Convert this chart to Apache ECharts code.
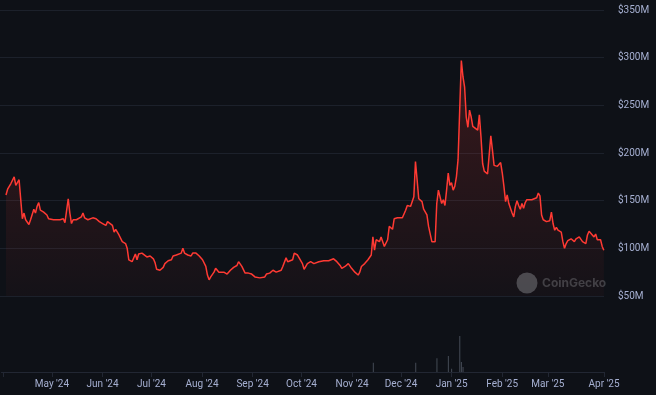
<!DOCTYPE html>
<html><head><meta charset="utf-8">
<script src="https://cdn.jsdelivr.net/npm/echarts@6/dist/echarts.min.js"></script>
<style>html,body{margin:0;padding:0;background:#0e1117;}#c{width:656px;height:395px;}</style>
</head><body><div id="c"></div>
<script>
// ---- data ----
const startDate = '2024-04-01'; // day 0
const priceDays = [3,4,5,6,8,9,11,13,14,15,16,17,18,20,21,22,23,24,26,28,29,30,32,33,36,38,39,40,41,42,43,44,46,47,49,50,51,53,54,56,58,60,62,64,65,66,68,69,70,72,73,74,76,77,78,80,81,82,83,84,86,87,89,91,93,94,95,96,97,99,100,102,104,105,107,108,110,111,112,114,116,117,119,121,123,125,126,127,128,130,131,133,134,136,138,140,142,144,145,147,149,151,153,155,156,158,159,161,162,164,166,168,169,171,172,174,175,176,178,179,181,182,184,185,187,189,191,192,194,195,197,198,200,203,205,207,208,210,212,214,216,218,219,220,222,224,226,227,228,229,230,231,232,234,235,236,237,239,240,242,243,245,246,247,248,250,251,252,253,254,255,256,257,258,259,260,261,263,264,265,266,267,268,269,270,271,272,273,274,275,276,277,278,279,280,281,282,283,284,285,286,287,288,289,291,292,293,294,295,297,298,299,300,301,302,303,305,306,307,308,309,310,312,313,314,315,316,317,318,319,320,321,322,324,325,327,328,329,330,331,333,335,336,337,338,339,340,342,343,344,345,346,347,348,350,351,353,354,355,357,358,359,360,362,363,364,365,366,367,368];
const priceValues = [156,162,160,168,175,166,172,131,137,130,131,125,130,141,137,144,148,140,138,135,131,129,130,132,130,131,127,128,152,137,126,130,130,130,133,137,132,130,131,132,131,128,126,124,128,130,124,117,120,114,112,107,105,100,88,86,88,94,88,94,95,93,91,92,89,85,78,80,77,80,84,87,88,92,93,91,95,100,95,93,92,95,95,92,88,81,72,67,70,75,79,75,77,75,73,77,80,82,86,81,74,74,73,70,71,69,67,70,73,74,77,75,73,77,81,90,86,88,88,95,93,91,84,78,84,86,84,82,86,85,87,85,87,89,86,82,79,81,84,79,75,72,75,81,84,88,93,112,98,109,110,107,112,102,103,109,123,120,131,132,131,132,131,140,145,144,146,154,191,172,152,153,149,141,142,135,123,107,106,107,147,161,162,147,151,145,161,179,166,169,161,165,175,193,245,297,280,269,238,227,245,238,228,230,224,240,217,189,181,178,177,218,203,187,189,186,190,179,165,149,156,147,137,133,144,150,145,141,147,142,148,151,149,151,151,153,158,155,135,130,128,129,138,126,119,122,119,117,107,100,105,108,107,110,107,110,112,112,107,105,114,118,116,112,115,109,107,109,102,98];
const volumeDays = [227,253,266,273,275,280,281,282];
const volumeValues = [20,20,30,35,7,78,22,11];
const monthNames = ['Jan','Feb','Mar','Apr','May','Jun','Jul','Aug','Sep','Oct','Nov','Dec'];
const firstLabelDate = '2024-05-01';
const yTicks = [50,100,150,200,250,300,350];

// ---- build ----
const DAY = 864e5;
const t0 = Date.parse(startDate);
const tFirst = Date.parse(firstLabelDate);
const priceData = priceDays.map((d,i)=>[t0 + d*DAY, priceValues[i]]);
const volumeData = volumeDays.map((d,i)=>[t0 + d*DAY, volumeValues[i]]);
const xMin = t0 - 0.65*DAY, xMax = t0 + 368.1*DAY;
const fmtMonth = v => { if (v < tFirst - DAY) return ''; const d = new Date(v); return monthNames[d.getUTCMonth()] + " '" + String(d.getUTCFullYear()).slice(2); };
const labelColor = '#a6b0d2';
const font = 'Roboto';

const chart = echarts.init(document.getElementById('c'), null, {renderer:'canvas'});
chart.setOption({
  backgroundColor: '#0e1117',
  animation: false,
  grid: [
    {left:0, right:52, top:10, bottom:99},
    {left:0, right:52, top:326, bottom:23}
  ],
  xAxis: [
    {type:'time', gridIndex:0, min:xMin, max:xMax, show:false, splitLine:{show:false}},
    {type:'time', gridIndex:1, min:xMin, max:xMax, minInterval:28*DAY, maxInterval:31*DAY,
     axisLine:{show:true, lineStyle:{color:'#222733', width:1}},
     axisTick:{show:true, length:5, lineStyle:{color:'#222733'}},
     axisLabel:{formatter:fmtMonth, align:'center', color:labelColor, fontSize:10, fontFamily:font, margin:7, showMinLabel:false, showMaxLabel:true, hideOverlap:false},
     splitLine:{show:false}}
  ],
  yAxis: [
    {type:'value', gridIndex:0, position:'right', min:yTicks[0], max:yTicks[yTicks.length-1], interval:50,
     axisLine:{show:false}, axisTick:{show:false},
     axisLabel:{formatter:v=>'$'+v+'M', color:labelColor, fontSize:10, fontFamily:font, margin:14},
     splitLine:{show:true, lineStyle:{color:'#1c212b', width:1}}},
    {type:'value', gridIndex:1, min:0, max:100, show:false, splitLine:{show:false}}
  ],
  series: [
    {type:'line', xAxisIndex:0, yAxisIndex:0, data:priceData, showSymbol:false, symbol:'none',
     lineStyle:{color:'#ff3a33', width:1.5},
     areaStyle:{color:new echarts.graphic.LinearGradient(0,0,0,1,[
       {offset:0, color:'rgba(255,58,51,0.26)'},
       {offset:1, color:'rgba(255,58,51,0.04)'}])}},
    {type:'bar', xAxisIndex:1, yAxisIndex:1, data:volumeData, barWidth:1,
     itemStyle:{color:'rgba(150,160,180,0.4)'}}
  ],
  graphic: [
    {type:'circle', shape:{cx:527, cy:283, r:10.5}, style:{fill:'rgba(120,120,125,0.55)'}, z:10},
    {type:'text', x:542, y:283, style:{text:'CoinGecko', fill:'rgba(120,120,125,0.45)', font:'bold 12px Inter', textVerticalAlign:'middle'}, z:10}
  ]
});
</script>
</body></html>
